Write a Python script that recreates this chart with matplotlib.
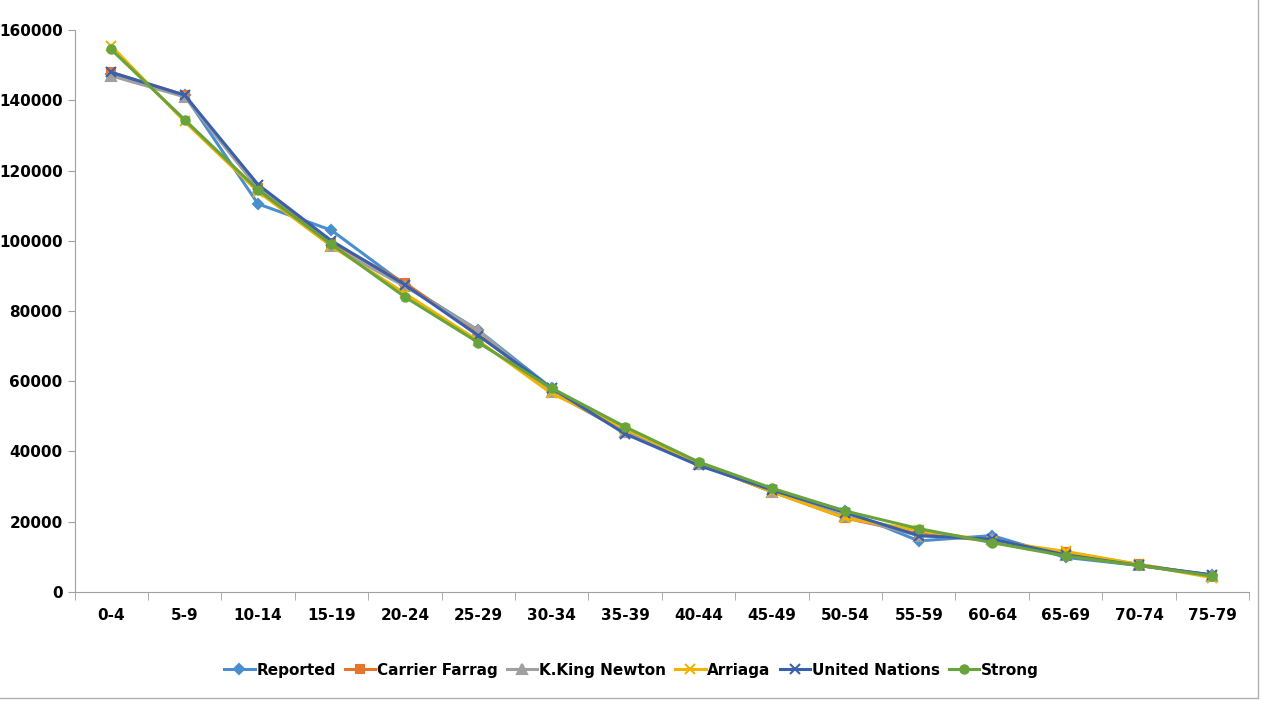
import numpy as np
import matplotlib.pyplot as plt

plt.rcParams['font.family'] = ['DejaVu Sans Condensed', 'DejaVu Sans']

ages = ['0-4', '5-9', '10-14', '15-19', '20-24', '25-29', '30-34', '35-39',
        '40-44', '45-49', '50-54', '55-59', '60-64', '65-69', '70-74', '75-79']

reported = [147500, 141500, 110500, 103000, 87500, 74500, 58000, 45500, 36500, 29000, 23000, 14500, 16000, 9800, 7500, 4800]
carrier_farrag = [148000, 141500, 115000, 99500, 88000, 73500, 57000, 45500, 36500, 28500, 21000, 16500, 14500, 11200, 7800, 4500]
king_newton = [147000, 141000, 115000, 98500, 87000, 74500, 57000, 45500, 36500, 28500, 21500, 16000, 15000, 10500, 7500, 4500]
arriaga = [155500, 134000, 114000, 98500, 85000, 71500, 56500, 46500, 36500, 28500, 21000, 17500, 14500, 11500, 7800, 4000]
united_nations = [148000, 141500, 116000, 100000, 87500, 73000, 58000, 45000, 36000, 29000, 22500, 16000, 15000, 10500, 7500, 4800]
strong = [154500, 134500, 114500, 99000, 84000, 71000, 58000, 47000, 37000, 29500, 23000, 18000, 14000, 10200, 7500, 4500]

series = [
    ('Reported', reported, '#4a8fcb', 'D', 5),
    ('Carrier Farrag', carrier_farrag, '#e3762b', 's', 6),
    ('K.King Newton', king_newton, '#a0a0a0', '^', 7),
    ('Arriaga', arriaga, '#f0b400', 'x', 7),
    ('United Nations', united_nations, '#3a5fad', 'x', 7),
    ('Strong', strong, '#68a33c', 'o', 6),
]

fig = plt.figure(figsize=(12.63, 7.02), dpi=100)
ax = fig.add_axes([0.059, 0.157, 0.93, 0.8])
x = np.arange(len(ages))
for name, vals, col, mk, ms in series:
    ax.plot(x, vals, color=col, marker=mk, markersize=ms, linewidth=2.2,
            markeredgewidth=1.5, label=name)

ax.set_xlim(-0.5, len(ages) - 0.5)
ax.set_ylim(0, 160000)
ax.set_yticks(range(0, 160001, 20000))
ax.set_xticks(x)
ax.set_xticklabels(ages)
ax.set_xticks(np.arange(-0.5, len(ages)), minor=True)
ax.tick_params(axis='x', which='major', length=0, pad=12)
ax.tick_params(axis='x', which='minor', length=6, color='#a0a0a0')
ax.tick_params(axis='y', length=5, color='#a0a0a0')
for lab in ax.get_xticklabels() + ax.get_yticklabels():
    lab.set_fontweight('bold')
    lab.set_fontsize(11)
for s in ['top', 'right']:
    ax.spines[s].set_visible(False)
for s in ['left', 'bottom']:
    ax.spines[s].set_color('#a0a0a0')

# thin chart-area border on right and bottom
fig.add_artist(plt.Line2D([0.996, 0.996], [0.005, 1], color='#b0b0b0', lw=1))
fig.add_artist(plt.Line2D([0, 0.996], [0.005, 0.005], color='#b0b0b0', lw=1))

fig.legend(loc='lower center', ncol=6, frameon=False, bbox_to_anchor=(0.5, 0.015),
           prop={'weight': 'bold', 'size': 11}, handlelength=2.0, columnspacing=0.6,
           handletextpad=0.1)

fig.savefig('out.png')
